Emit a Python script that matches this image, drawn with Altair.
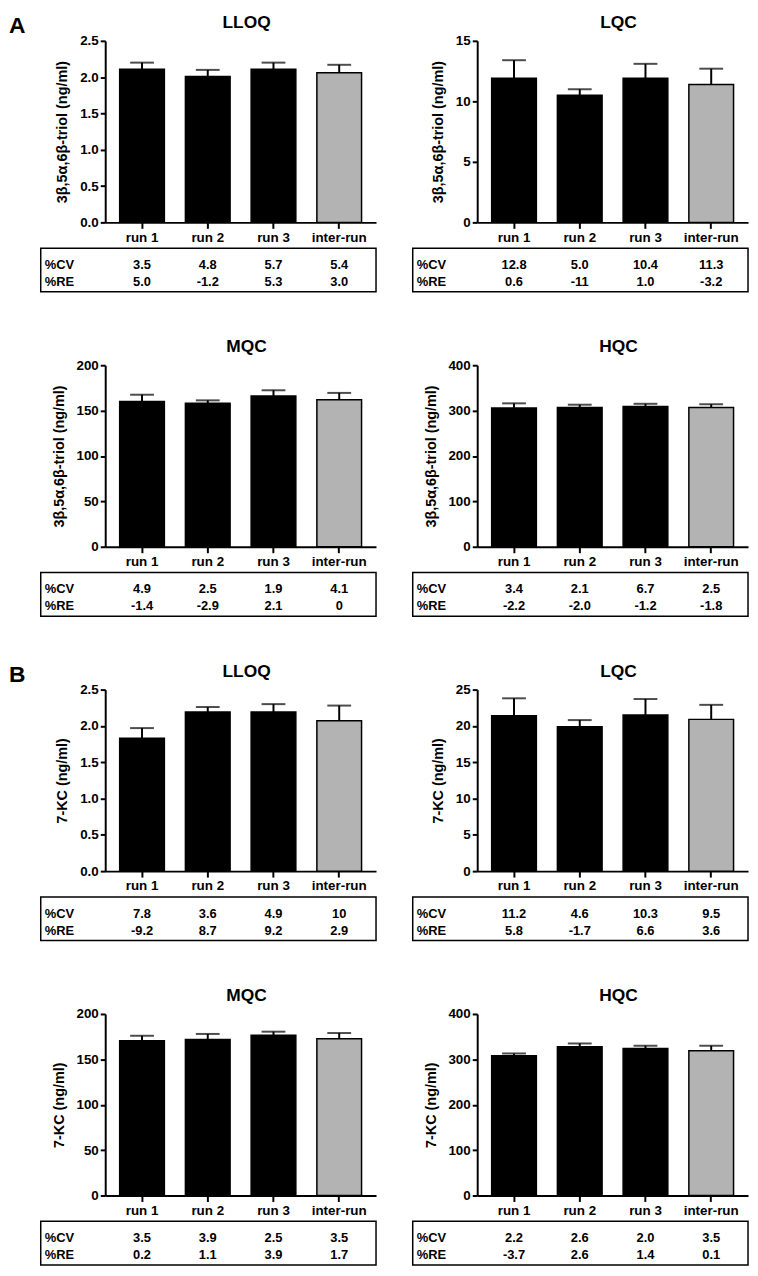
import altair as alt
import pandas as pd

FONT = "Liberation Sans"
W, H = 273, 183

categories = ["run 1", "run 2", "run 3", "inter-run"]
rows = ["%CV", "%RE"]
fills = ["#000000", "#000000", "#000000", "#b3b3b3"]

ytitle_A = "3β,5α,6β-triol (ng/ml)"
ytitle_B = "7-KC (ng/ml)"

# ---- A: 3β,5α,6β-triol ----
A_LLOQ_mean = [2.11, 2.01, 2.11, 2.06]
A_LLOQ_upper = [2.20, 2.10, 2.20, 2.17]
A_LLOQ_cv = ["3.5", "4.8", "5.7", "5.4"]
A_LLOQ_re = ["5.0", "-1.2", "5.3", "3.0"]

A_LQC_mean = [11.9, 10.5, 11.9, 11.4]
A_LQC_upper = [13.4, 11.0, 13.1, 12.7]
A_LQC_cv = ["12.8", "5.0", "10.4", "11.3"]
A_LQC_re = ["0.6", "-11", "1.0", "-3.2"]

A_MQC_mean = [160, 158, 166, 162]
A_MQC_upper = [167.5, 161.3, 172.4, 169.5]
A_MQC_cv = ["4.9", "2.5", "1.9", "4.1"]
A_MQC_re = ["-1.4", "-2.9", "2.1", "0"]

A_HQC_mean = [306, 307, 309, 307]
A_HQC_upper = [316, 313, 315, 314]
A_HQC_cv = ["3.4", "2.1", "6.7", "2.5"]
A_HQC_re = ["-2.2", "-2.0", "-1.2", "-1.8"]

# ---- B: 7-KC ----
B_LLOQ_mean = [1.83, 2.19, 2.19, 2.07]
B_LLOQ_upper = [1.97, 2.26, 2.30, 2.28]
B_LLOQ_cv = ["7.8", "3.6", "4.9", "10"]
B_LLOQ_re = ["-9.2", "8.7", "9.2", "2.9"]

B_LQC_mean = [21.4, 19.9, 21.5, 20.9]
B_LQC_upper = [23.8, 20.8, 23.7, 22.9]
B_LQC_cv = ["11.2", "4.6", "10.3", "9.5"]
B_LQC_re = ["5.8", "-1.7", "6.6", "3.6"]

B_MQC_mean = [170.6, 172, 176.5, 172.8]
B_MQC_upper = [176, 178, 180.5, 179]
B_MQC_cv = ["3.5", "3.9", "2.5", "3.5"]
B_MQC_re = ["0.2", "1.1", "3.9", "1.7"]

B_HQC_mean = [308, 328, 324, 319]
B_HQC_upper = [313, 335, 330, 330]
B_HQC_cv = ["2.2", "2.6", "2.0", "3.5"]
B_HQC_re = ["-3.7", "2.6", "1.4", "0.1"]


def panel(title, ytitle, ticks, fmt, means, uppers, cv, re, label=None):
    df = pd.DataFrame({"cat": categories, "mean": means, "upper": uppers})
    df_t = pd.DataFrame({
        "cat": categories * 2,
        "row": [rows[0]] * 4 + [rows[1]] * 4,
        "val": list(cv) + list(re),
    })
    df_r = pd.DataFrame({"row": rows})
    dummy = pd.DataFrame({"k": [0]})

    xenc = alt.X(
        "cat:N", sort=categories,
        scale=alt.Scale(type="band", domain=categories, paddingInner=0.32, paddingOuter=0.22),
        axis=alt.Axis(title=None, labelAngle=0, tickSize=6, labelPadding=2),
    )
    yscale = alt.Scale(domain=[0, ticks[-1]], nice=False, zero=True)
    yaxis = alt.Axis(title=ytitle, values=ticks, tickCount=len(ticks), format=fmt, tickSize=5,
                     labelPadding=2, titlePadding=10, labelOverlap=False, labelFlush=False)

    bars = alt.Chart(df).mark_bar(stroke="black", strokeWidth=1.5).encode(
        x=xenc,
        y=alt.Y("mean:Q", scale=yscale, axis=yaxis),
        color=alt.Color("cat:N", scale=alt.Scale(domain=categories, range=fills), legend=None),
    )
    whisk = alt.Chart(df).mark_rule(color="black", strokeWidth=2).encode(
        x=xenc, y=alt.Y("mean:Q", scale=yscale), y2="upper:Q"
    )
    cap = alt.Chart(df).mark_tick(color="black", thickness=2, size=24).encode(
        x=xenc, y=alt.Y("upper:Q", scale=yscale)
    )

    rowY = alt.Y("row:N", scale=alt.Scale(type="point", domain=rows, range=[H + 43, H + 60], padding=0), axis=None)
    vals = alt.Chart(df_t).mark_text(font=FONT, fontWeight="bold", fontSize=13, baseline="middle", color="black").encode(
        x=xenc, y=rowY, text="val:N"
    )
    rlab = alt.Chart(df_r).mark_text(font=FONT, fontWeight="bold", fontSize=13, baseline="middle", align="left", color="black").encode(
        x=alt.value(-61), y=rowY, text="row:N"
    )
    box = alt.Chart(dummy).mark_rect(fillOpacity=0, stroke="black", strokeWidth=1.5).encode(
        x=alt.value(-65), x2=alt.value(W), y=alt.value(H + 26), y2=alt.value(H + 70)
    )
    ttl = alt.Chart(dummy).mark_text(font=FONT, fontWeight="bold", fontSize=17.5, align="center", baseline="top", color="black").encode(
        x=alt.value(W / 2 + 6), y=alt.value(-27), text=alt.value(title)
    )
    layers = [alt.layer(bars, whisk, cap), alt.layer(vals, rlab), box, ttl]
    if label:
        lab = alt.Chart(dummy).mark_text(font=FONT, fontWeight="bold", fontSize=23, align="left", baseline="top", color="black").encode(
            x=alt.value(-97), y=alt.value(-26), text=alt.value(label)
        )
        layers.append(lab)
    return alt.layer(*layers).resolve_scale(y="independent").properties(width=W, height=H)


t25 = [0, 0.5, 1.0, 1.5, 2.0, 2.5]
panels = [
    panel("LLOQ", ytitle_A, t25, ".1f", A_LLOQ_mean, A_LLOQ_upper, A_LLOQ_cv, A_LLOQ_re, label="A"),
    panel("LQC", ytitle_A, [0, 5, 10, 15], "d", A_LQC_mean, A_LQC_upper, A_LQC_cv, A_LQC_re),
    panel("MQC", ytitle_A, [0, 50, 100, 150, 200], "d", A_MQC_mean, A_MQC_upper, A_MQC_cv, A_MQC_re),
    panel("HQC", ytitle_A, [0, 100, 200, 300, 400], "d", A_HQC_mean, A_HQC_upper, A_HQC_cv, A_HQC_re),
    panel("LLOQ", ytitle_B, t25, ".1f", B_LLOQ_mean, B_LLOQ_upper, B_LLOQ_cv, B_LLOQ_re, label="B"),
    panel("LQC", ytitle_B, [0, 5, 10, 15, 20, 25], "d", B_LQC_mean, B_LQC_upper, B_LQC_cv, B_LQC_re),
    panel("MQC", ytitle_B, [0, 50, 100, 150, 200], "d", B_MQC_mean, B_MQC_upper, B_MQC_cv, B_MQC_re),
    panel("HQC", ytitle_B, [0, 100, 200, 300, 400], "d", B_HQC_mean, B_HQC_upper, B_HQC_cv, B_HQC_re),
]

chart = alt.concat(*panels, columns=2, spacing={"row": 44, "column": 33}, padding=0).configure(
    padding=0
).configure_view(
    stroke="transparent"
).configure_axis(
    domainColor="black", domainWidth=2, tickColor="black", tickWidth=2,
    labelColor="black", labelFont=FONT, labelFontSize=13.5, labelFontWeight="bold",
    titleColor="black", titleFont=FONT, titleFontSize=14.5, titleFontWeight="bold", grid=False,
)

chart.save("out.html", embed_options={"renderer": "svg", "actions": False})
